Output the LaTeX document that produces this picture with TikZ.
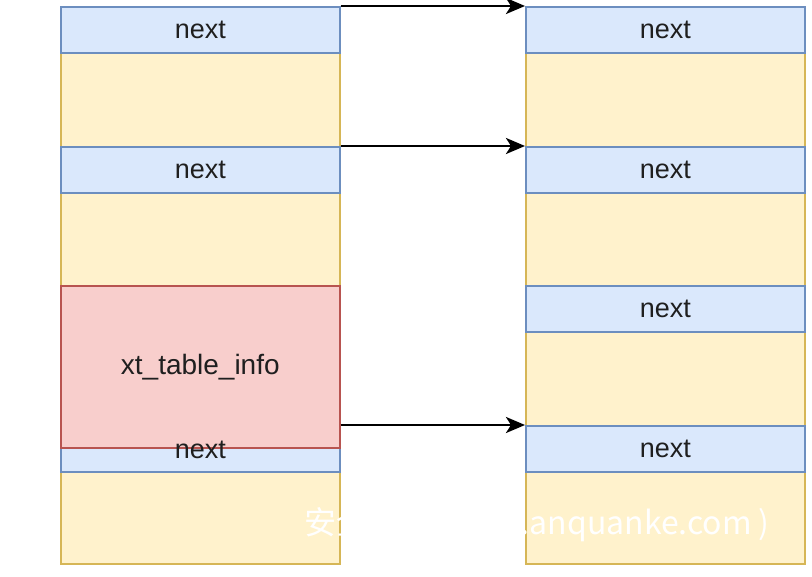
\documentclass[tikz,border=0pt]{standalone}
\usepackage{fontspec}
\setmainfont{Liberation Sans}
\newfontfamily\cjk{Noto Sans CJK SC}
\usetikzlibrary{arrows.meta}
\definecolor{bfill}{HTML}{DAE8FC}
\definecolor{bline}{HTML}{6C8EBF}
\definecolor{yfill}{HTML}{FFF2CC}
\definecolor{yline}{HTML}{D6B656}
\definecolor{rfill}{HTML}{F8CECC}
\definecolor{rline}{HTML}{B85450}
\tikzset{
  cell/.style={rectangle, anchor=north west, minimum width=279pt, inner sep=0pt, line width=1.6pt,
    font=\fontsize{27}{32}\selectfont, text=black!88},
  hdr/.style={cell, fill=bfill, draw=bline, minimum height=46pt},
  bodyy/.style={cell, fill=yfill, draw=yline},
  redbox/.style={cell, fill=rfill, draw=rline, minimum height=162pt, font=\fontsize{28}{32}\selectfont},
  lbl/.style={inner sep=0pt, font=\fontsize{27}{32}\selectfont, text=black!88},
  arr/.style={line width=2.8pt, -{Stealth[length=19pt, width=16pt, inset=5pt]}},
}
\begin{document}
\begin{tikzpicture}[x=1pt, y=-1pt]
\useasboundingbox (0,0) rectangle (812,577);
% left column
\node[bodyy, minimum height=94pt] (l1b) at (60,52) {};
\node[hdr] (l1h) at (60,6) {\raisebox{-2pt}{next}};
\node[bodyy, minimum height=93pt] (l2b) at (60,192) {};
\node[hdr] (l2h) at (60,146) {\raisebox{-2pt}{next}};
\node[bodyy, minimum height=92pt] (l3b) at (60,471) {};
\node[hdr] (l3h) at (60,425) {};
\node[redbox] (red) at (60,285) {\raisebox{-3pt}{xt\_table\_info}};
\node[lbl, yshift=-1pt] (l3t) at (l3h.center) {next};
% right column
\node[bodyy, minimum height=94pt] (r1b) at (525,52) {};
\node[hdr] (r1h) at (525,6) {\raisebox{-2pt}{next}};
\node[bodyy, minimum height=93pt] (r2b) at (525,192) {};
\node[hdr] (r2h) at (525,146) {\raisebox{-2pt}{next}};
\node[bodyy, minimum height=94pt] (r3b) at (525,331) {};
\node[hdr] (r3h) at (525,285) {\raisebox{-2pt}{next}};
\node[bodyy, minimum height=92pt] (r4b) at (525,471) {};
\node[hdr] (r4h) at (525,425) {\raisebox{-2pt}{next}};
% arrows
\draw[arr] (l1h.north east) -- (r1h.north west);
\draw[arr] (l2h.north east) -- (r2h.north west);
\draw[arr] (red.east |- r4h.north west) -- (r4h.north west);
% watermark
\node[anchor=base east, inner sep=0pt, text=white, font=\cjk\fontsize{32}{36}\selectfont] (wm) at (770,534) {安全客 (\hspace{20pt} www.anquanke.com )};
\end{tikzpicture}
\end{document}
